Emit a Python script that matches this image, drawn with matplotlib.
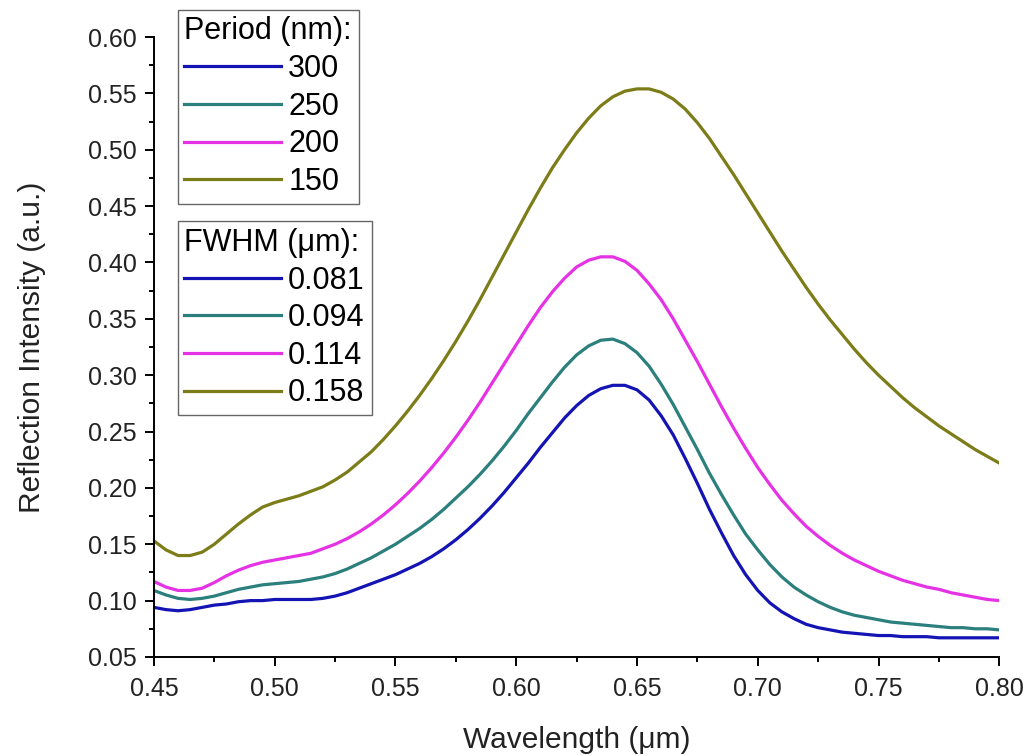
import numpy as np
import matplotlib.pyplot as plt

plt.rcParams['font.family'] = ['Liberation Sans', 'DejaVu Sans']

# wavelength grid (um), 0.45 .. 0.80 in 0.005 steps
wl = np.round(np.arange(0.45, 0.8001, 0.005), 3)

# reflection intensity, one list per grating period
r300 = [0.094, 0.092, 0.091, 0.092, 0.094, 0.096, 0.097, 0.099, 0.100, 0.100,
        0.101, 0.101, 0.101, 0.101, 0.102, 0.104, 0.107, 0.111, 0.115, 0.119,
        0.123, 0.128, 0.133, 0.139, 0.146, 0.154, 0.163, 0.173, 0.184, 0.196,
        0.209, 0.222, 0.236, 0.249, 0.262, 0.273, 0.282, 0.288, 0.291, 0.291,
        0.287, 0.278, 0.264, 0.247, 0.226, 0.204, 0.181, 0.160, 0.140, 0.123,
        0.109, 0.098, 0.090, 0.084, 0.079, 0.076, 0.074, 0.072, 0.071, 0.070,
        0.069, 0.069, 0.068, 0.068, 0.068, 0.067, 0.067, 0.067, 0.067, 0.067,
        0.067]
r250 = [0.109, 0.105, 0.102, 0.101, 0.102, 0.104, 0.107, 0.110, 0.112, 0.114,
        0.115, 0.116, 0.117, 0.119, 0.121, 0.124, 0.128, 0.133, 0.138, 0.144,
        0.150, 0.157, 0.164, 0.172, 0.181, 0.191, 0.201, 0.212, 0.224, 0.237,
        0.251, 0.266, 0.280, 0.294, 0.307, 0.318, 0.326, 0.331, 0.332, 0.328,
        0.320, 0.308, 0.292, 0.274, 0.254, 0.234, 0.213, 0.194, 0.176, 0.159,
        0.145, 0.132, 0.121, 0.112, 0.105, 0.099, 0.094, 0.090, 0.087, 0.085,
        0.083, 0.081, 0.080, 0.079, 0.078, 0.077, 0.076, 0.076, 0.075, 0.075,
        0.074]
r200 = [0.117, 0.112, 0.109, 0.109, 0.111, 0.116, 0.122, 0.127, 0.131, 0.134,
        0.136, 0.138, 0.140, 0.142, 0.146, 0.150, 0.155, 0.161, 0.168, 0.176,
        0.185, 0.195, 0.206, 0.218, 0.231, 0.245, 0.260, 0.276, 0.293, 0.310,
        0.327, 0.344, 0.360, 0.374, 0.386, 0.396, 0.402, 0.405, 0.405, 0.401,
        0.393, 0.381, 0.367, 0.350, 0.331, 0.312, 0.292, 0.272, 0.253, 0.235,
        0.218, 0.203, 0.189, 0.177, 0.166, 0.157, 0.149, 0.142, 0.136, 0.131,
        0.126, 0.122, 0.118, 0.115, 0.112, 0.110, 0.107, 0.105, 0.103, 0.101,
        0.100]
r150 = [0.153, 0.145, 0.140, 0.140, 0.143, 0.150, 0.159, 0.168, 0.176, 0.183,
        0.187, 0.190, 0.193, 0.197, 0.201, 0.207, 0.214, 0.223, 0.232, 0.243,
        0.255, 0.268, 0.282, 0.297, 0.313, 0.330, 0.348, 0.367, 0.387, 0.407,
        0.427, 0.447, 0.466, 0.484, 0.500, 0.515, 0.528, 0.539, 0.547, 0.552,
        0.554, 0.554, 0.551, 0.545, 0.536, 0.524, 0.510, 0.494, 0.478, 0.461,
        0.444, 0.427, 0.410, 0.394, 0.378, 0.363, 0.349, 0.336, 0.323, 0.311,
        0.300, 0.290, 0.280, 0.271, 0.263, 0.255, 0.248, 0.241, 0.234, 0.228,
        0.222]

periods = ["300", "250", "200", "150"]
fwhm = ["0.081", "0.094", "0.114", "0.158"]
colors = ["#1414b4", "#2b7f7c", "#e432e4", "#7c7c18"]

fig = plt.figure(figsize=(10.26, 7.56), dpi=100)
ax = fig.add_axes([0.150, 0.131, 0.824, 0.820])

lines = []
for r, c in zip([r300, r250, r200, r150], colors):
    ln, = ax.plot(wl, r, color=c, linewidth=2.3)
    lines.append(ln)

ax.set_xlim(0.45, 0.80)
ax.set_ylim(0.05, 0.60)
ax.set_xticks([0.45, 0.50, 0.55, 0.60, 0.65, 0.70, 0.75, 0.80])
ax.set_yticks([0.05, 0.10, 0.15, 0.20, 0.25, 0.30, 0.35, 0.40, 0.45, 0.50, 0.55, 0.60])
ax.set_xticks([0.475, 0.525, 0.575, 0.625, 0.675, 0.725, 0.775], minor=True)
ax.set_yticks([0.075 + 0.05 * i for i in range(11)], minor=True)
ax.xaxis.set_major_formatter(plt.FormatStrFormatter('%.2f'))
ax.yaxis.set_major_formatter(plt.FormatStrFormatter('%.2f'))
ax.tick_params(which='major', direction='out', length=6.5, width=1.4,
               labelsize=18, labelcolor='#222222')
ax.tick_params(axis='x', which='major', pad=8)
ax.tick_params(axis='y', which='major', pad=6)
ax.tick_params(which='minor', direction='out', length=3.5, width=1.4)
ax.spines['top'].set_visible(False)
ax.spines['right'].set_visible(False)
ax.spines['left'].set_linewidth(1.4)
ax.spines['bottom'].set_linewidth(1.4)

ax.set_xlabel("Wavelength (μm)", fontsize=21.5, labelpad=18, color='#222222')
ax.set_ylabel("Reflection Intensity (a.u.)", fontsize=21.5, labelpad=30, color='#222222')

leg_kw = dict(loc='upper left', fontsize=22, title_fontsize=22, handlelength=3.15,
              handletextpad=0.25, labelspacing=0.25, borderpad=0.22,
              borderaxespad=0, fancybox=False, framealpha=1,
              edgecolor='#666666', alignment='left')
leg1 = ax.legend(lines, periods, title="Period (nm):",
                 bbox_to_anchor=(0.028, 1.044), **leg_kw)
leg1.get_frame().set_linewidth(1.0)
ax.add_artist(leg1)
leg2 = ax.legend(lines, fwhm, title="FWHM (μm):",
                 bbox_to_anchor=(0.028, 0.703), **leg_kw)
leg2.get_frame().set_linewidth(1.0)

plt.savefig("out.png", dpi=100)
